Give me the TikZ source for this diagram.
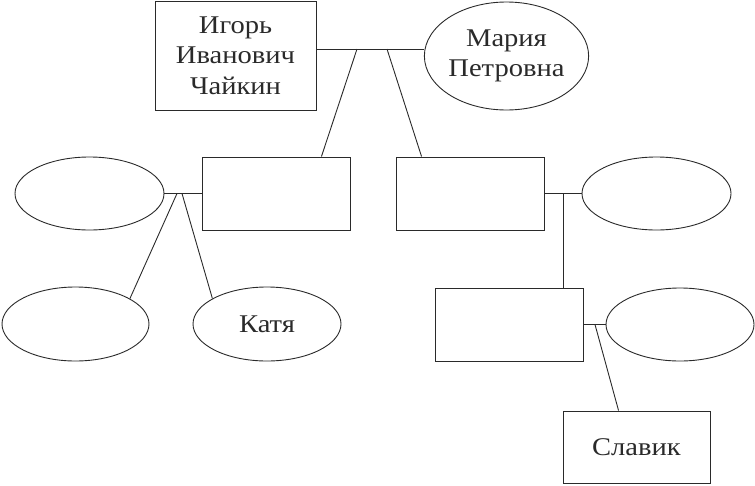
\documentclass[tikz,border=0pt]{standalone}
\usepackage{fontspec}
\setmainfont{Liberation Serif}[FakeStretch=1.12]
\usetikzlibrary{shapes.geometric,calc}
\definecolor{ink}{HTML}{2A2A2A}
\tikzset{
  label text/.style={align=center,text=ink,font=\fontsize{25.5}{30.5}\selectfont},
  box/.style={draw=ink,line width=0.9pt,rectangle,inner sep=0pt,label text},
  oval/.style={draw=ink,line width=0.9pt,ellipse,inner sep=0pt,label text},
  link/.style={draw=ink,line width=0.9pt}
}
\begin{document}
\begin{tikzpicture}[x=1pt,y=-1pt]
\useasboundingbox (0,0) rectangle (755,485);
\node[box,minimum width=161pt,minimum height=109pt] (igor) at (235.5,55.5) {Игорь\\Иванович\\Чайкин};
\node[oval,minimum width=161pt,minimum height=108pt] (maria) at (506.5,56) {Мария\\Петровна};
\node[box,minimum width=148pt,minimum height=73pt] (A) at (276,193.5) {};
\node[box,minimum width=148pt,minimum height=73pt] (B) at (470,193.5) {};
\node[oval,minimum width=149pt,minimum height=73pt] (L1) at (89.5,193.5) {};
\node[oval,minimum width=147pt,minimum height=74pt] (L2) at (75.5,324) {};
\node[oval,minimum width=148pt,minimum height=74pt] (katya) at (267,324) {Катя};
\node[oval,minimum width=149pt,minimum height=73pt] (R1) at (656.5,193.5) {};
\node[box,minimum width=148pt,minimum height=73pt] (C) at (509,324.5) {};
\node[oval,minimum width=148pt,minimum height=73pt] (R2) at (680,324.5) {};
\node[box,minimum width=147pt,minimum height=72pt] (slavik) at (636.5,447) {Славик};
% top couple
\coordinate (m1a) at (357,49);
\coordinate (m1b) at (387,49);
\draw[link] (igor.east |- m1a) -- (maria.west |- m1a);
\draw[link] (m1a) -- ($(A.north east)+(-29,0)$);
\draw[link] (m1b) -- ($(B.north west)+(26,0)$);
% left couple
\coordinate (m2a) at (177,193.5);
\coordinate (m2b) at (182,193.5);
\draw[link] (L1.east) -- (A.west);
\draw[link] (m2a) -- (L2.25);
\draw[link] (m2b) -- (katya.155);
% right couple
\coordinate (m3) at (563,193.5);
\draw[link] (B.east) -- (R1.west);
\draw[link] (m3) -- (m3 |- C.north);
% lower right couple
\coordinate (m4) at (595,324.5);
\draw[link] (C.east) -- (R2.west);
\draw[link] (m4) -- ($(slavik.north west)+(56,0)$);
\end{tikzpicture}
\end{document}
